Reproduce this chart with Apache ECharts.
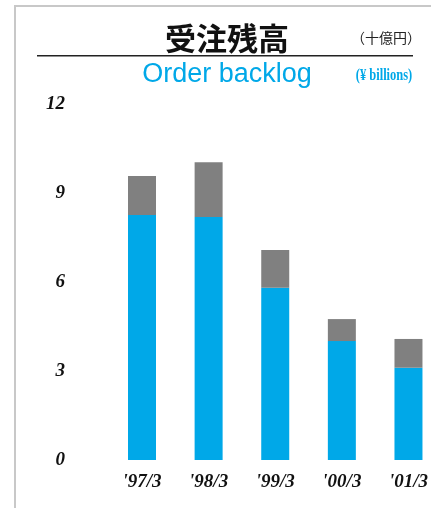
<!DOCTYPE html>
<html><head><meta charset="utf-8">
<script src="https://cdn.jsdelivr.net/npm/echarts@6/dist/echarts.min.js"></script>
<style>html,body{margin:0;padding:0;background:#fff}#c{width:431px;height:508px}</style>
</head><body><div id="c"></div>
<script>
const categories = ["'97/3", "'98/3", "'99/3", "'00/3", "'01/3"];
const blueValues = [8.26, 8.19, 5.81, 4.01, 3.11];
const grayValues = [1.31, 1.85, 1.27, 0.74, 0.97];
const yTicks = [0, 3, 6, 9, 12];

const labelFont = {fontFamily: 'Liberation Serif', fontWeight: 'bold', fontStyle: 'italic', color: '#111'};
const chart = echarts.init(document.getElementById('c'), null, {renderer: 'canvas'});
chart.setOption({
  animation: false,
  backgroundColor: '#fff',
  grid: {left: 142, top: 104, width: 272.2, height: 356},
  xAxis: {
    type: 'category', data: categories, boundaryGap: false,
    axisLine: {show: false}, axisTick: {show: false}, splitLine: {show: false},
    axisLabel: Object.assign({fontSize: 19, margin: 13}, labelFont)
  },
  yAxis: {
    type: 'value', min: yTicks[0], max: yTicks[yTicks.length - 1], interval: 3,
    splitLine: {show: false}, axisLine: {show: false}, axisTick: {show: false},
    axisLabel: Object.assign({fontSize: 19, margin: 77, align: 'right'}, labelFont)
  },
  series: [
    {type: 'bar', stack: 'a', data: blueValues, barWidth: 28, clip: false, itemStyle: {color: '#00a8e8'}},
    {type: 'bar', stack: 'a', data: grayValues, barWidth: 28, clip: false, itemStyle: {color: '#808080'}}
  ],
  graphic: [
    {type: 'rect', shape: {x: 14, y: 5, width: 417, height: 2}, style: {fill: '#c8c8c8'}},
    {type: 'rect', shape: {x: 14, y: 5, width: 2, height: 503}, style: {fill: '#c8c8c8'}},
    {type: 'rect', shape: {x: 37, y: 55, width: 376, height: 1.5}, style: {fill: '#222'}},
    {type: 'text', x: 227, y: 38, style: {text: '受注残高', fontFamily: 'Noto Sans CJK JP', fontWeight: 'bold', fontSize: 31, fill: '#111', align: 'center', verticalAlign: 'middle'}},
    {type: 'text', x: 386, y: 38, style: {text: '（十億円）', fontFamily: 'Noto Sans CJK JP', fontSize: 14, fill: '#222', align: 'center', verticalAlign: 'middle'}},
    {type: 'text', x: 227, y: 75, style: {text: 'Order backlog', fontFamily: 'Liberation Sans', fontSize: 27, fill: '#00a8e8', align: 'center', verticalAlign: 'middle'}},
    {type: 'text', x: 384, y: 76, scaleX: 0.78, style: {text: '(¥ billions)', fontFamily: 'Liberation Serif', fontWeight: 'bold', fontSize: 16, fill: '#00a8e8', align: 'center', verticalAlign: 'middle'}}
  ]
});
</script></body></html>
